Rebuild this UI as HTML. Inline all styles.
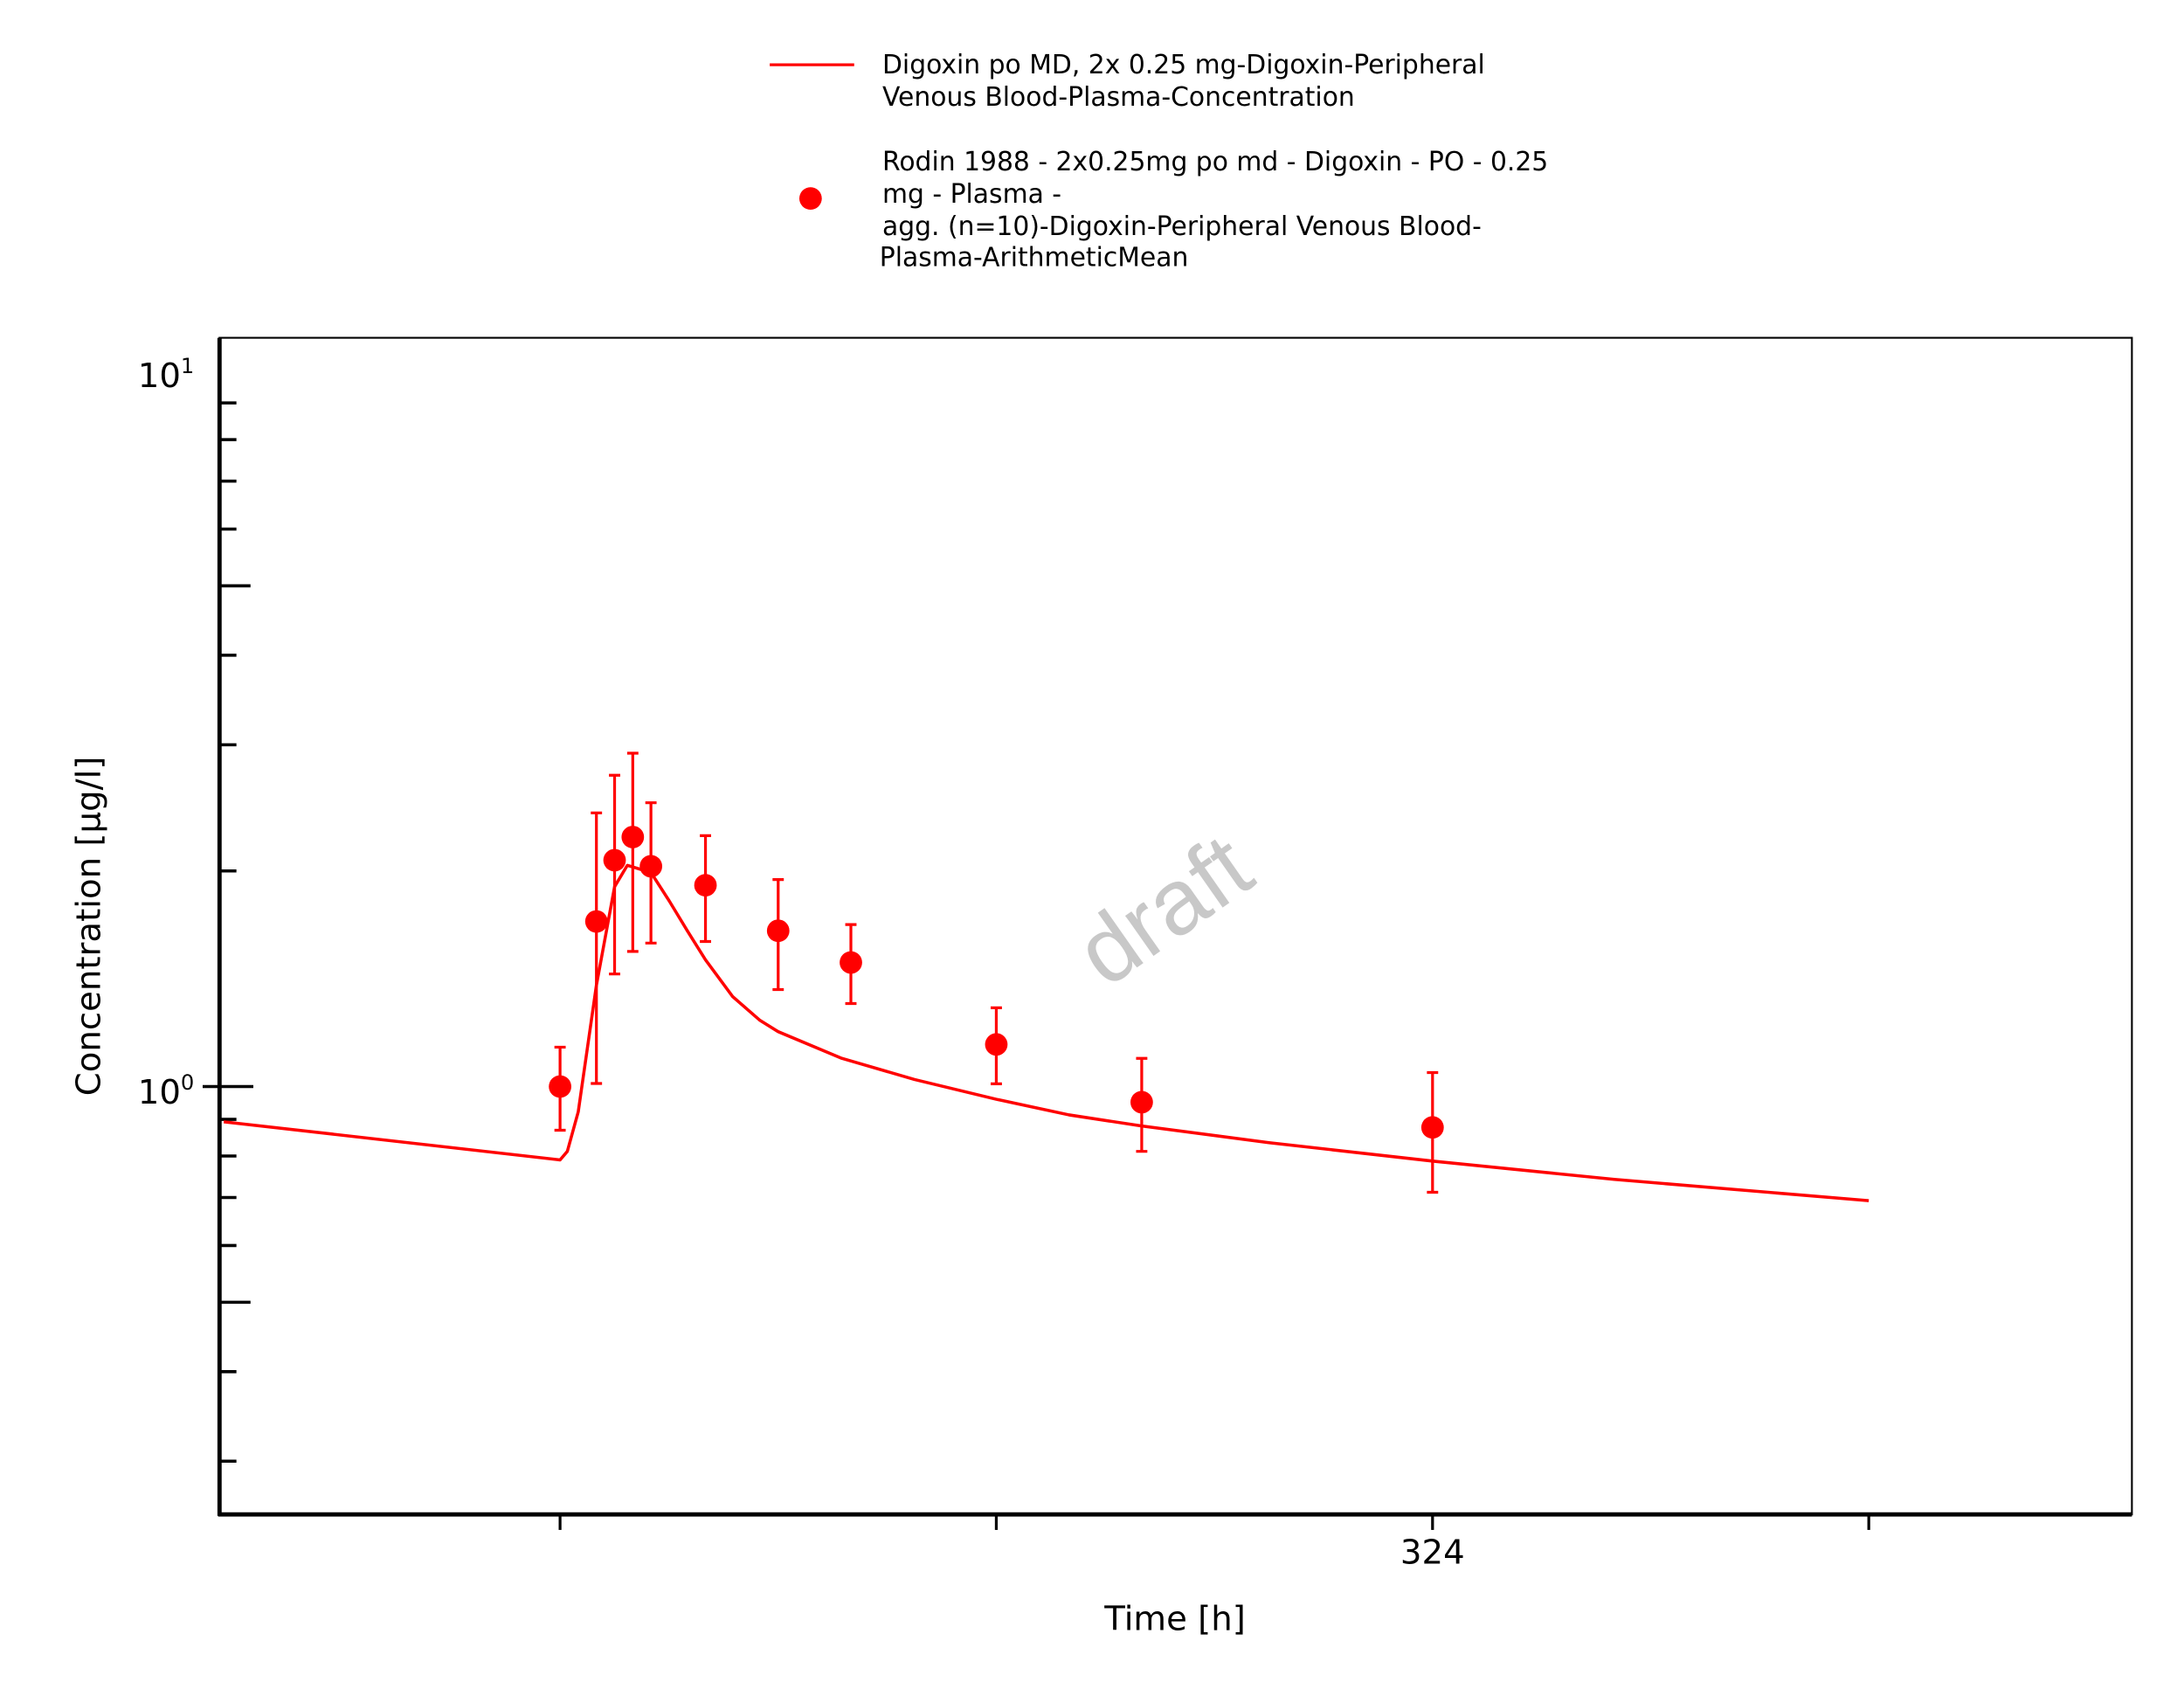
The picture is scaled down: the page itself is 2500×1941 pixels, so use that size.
<!DOCTYPE html>
<html><head><meta charset="utf-8"><style>
html,body{margin:0;padding:0;background:#fff;}
svg{display:block;font-family:"DejaVu Sans","Liberation Sans",sans-serif;}
</style></head><body>
<svg id="chart" width="2500" height="1941" viewBox="0 0 1552 1205" xmlns="http://www.w3.org/2000/svg">
<rect width="1552" height="1205" fill="#fff"/>
<g>
 <line x1="547" y1="46" x2="607" y2="46" stroke="#f00" stroke-width="2"/>
 <text x="627" y="52" font-size="18.5" fill="#000">Digoxin po MD, 2x 0.25 mg-Digoxin-Peripheral</text>
 <text x="627" y="75" font-size="18.5" fill="#000">Venous Blood-Plasma-Concentration</text>
 <circle cx="576" cy="141" r="8" fill="#f00"/>
 <text x="627" y="121" font-size="18.5" fill="#000">Rodin 1988 - 2x0.25mg po md - Digoxin - PO - 0.25</text>
 <text x="627" y="144" font-size="18.5" fill="#000">mg - Plasma -</text>
 <text x="627" y="167" font-size="18.5" fill="#000">agg. (n=10)-Digoxin-Peripheral Venous Blood-</text>
 <text x="625" y="189" font-size="18.5" fill="#000">Plasma-ArithmeticMean</text>
</g>
<text x="840" y="665" font-size="66" fill="#c8c8c8" text-anchor="middle" transform="rotate(-35 840 665)" font-family="Liberation Sans, sans-serif">draft</text>
<rect x="156" y="240" width="1359" height="836" fill="none" stroke="#000" stroke-width="1.3"/>
<line x1="156" y1="240" x2="156" y2="1077" stroke="#000" stroke-width="3"/>
<line x1="155" y1="1076" x2="1515" y2="1076" stroke="#000" stroke-width="3"/>
<g id="yticks"></g>
<g id="xticks"></g>
<text x="835" y="1158" font-size="24" text-anchor="middle">Time [h]</text>
<text x="0" y="0" font-size="24" text-anchor="middle" transform="translate(71 658) rotate(-90)">Concentration [µg/l]</text>
<g id="series"></g>
</svg>
<script>
const simTimes=[257.5,276,276.4,277,278,279,279.7,281,282,283,284,285.5,287,288,291.5,295.5,300,304,308,315,324,334,348];
const simValues=[0.893,0.79,0.812,0.922,1.385,1.901,2.036,1.99,1.817,1.65,1.503,1.335,1.237,1.193,1.095,1.023,0.96,0.913,0.881,0.835,0.787,0.742,0.693];
const obsTimes=[276,278,279,280,281,284,288,292,300,308,324];
const obsValues=[1.0,1.70,2.07,2.23,2.03,1.91,1.65,1.49,1.145,0.951,0.877];
const obsUpper=[1.135,2.41,2.72,2.92,2.49,2.24,1.945,1.683,1.288,1.095,1.046];
const obsLower=[0.869,1.01,1.436,1.544,1.586,1.594,1.366,1.306,1.009,0.812,0.712];
const xTicks=[276,300,324,348];
const xTickLabels=["","","324",""];
const NS="http://www.w3.org/2000/svg";
const xs=t=>1018+(t-324)*12.917;
const ys=v=>772-509*Math.log10(v);
function mk(tag,attrs,parent){const e=document.createElementNS(NS,tag);for(const k in attrs)e.setAttribute(k,attrs[k]);parent.appendChild(e);return e;}
const yg=document.getElementById('yticks');
for(let d=-1;d<=0;d++){for(let m=1;m<=9;m++){const v=m*Math.pow(10,d);if(v<0.26)continue;const y=ys(v);
 const len=m===1?36:(m===5?22:12);const x0=m===1?144:156;
 const t=mk('line',{x1:x0,y1:y,x2:x0+len,y2:y,stroke:'#000','stroke-width':2.2},yg);
 
 }}
const l1=mk('text',{x:138,y:275,'font-size':24,'text-anchor':'end'},yg);l1.innerHTML='10<tspan dy="-10" font-size="15">1</tspan>';


const l0=mk('text',{x:138,y:784,'font-size':24,'text-anchor':'end'},yg);l0.innerHTML='10<tspan dy="-10" font-size="15">0</tspan>';


const xg=document.getElementById('xticks');
xTicks.forEach((t,i)=>{const x=xs(t);
 const tk=mk('line',{x1:x,y1:1076,x2:x,y2:1087,stroke:'#000','stroke-width':2},xg);
 
 
 if(xTickLabels[i]){const lb=mk('text',{x:x,y:1111,'font-size':24,'text-anchor':'middle'},xg);lb.textContent=xTickLabels[i];
 
 }});
const sg=document.getElementById('series');
const pl=mk('polyline',{points:simTimes.map((t,i)=>xs(t)+','+ys(simValues[i])).join(' '),fill:'none',stroke:'#f00','stroke-width':2.2,'stroke-linejoin':'round'},sg);


obsTimes.forEach((t,i)=>{const x=xs(t);const yu=ys(obsUpper[i]),yl=ys(obsLower[i]);
 const eb=mk('path',{d:`M${x},${yu}V${yl}M${x-4},${yu}H${x+4}M${x-4},${yl}H${x+4}`,stroke:'#f00','stroke-width':2,fill:'none'},sg);
 
 
 const c=mk('circle',{cx:x,cy:ys(obsValues[i]),r:8,fill:'#f00'},sg);
 
 });
</script>
</body></html>
